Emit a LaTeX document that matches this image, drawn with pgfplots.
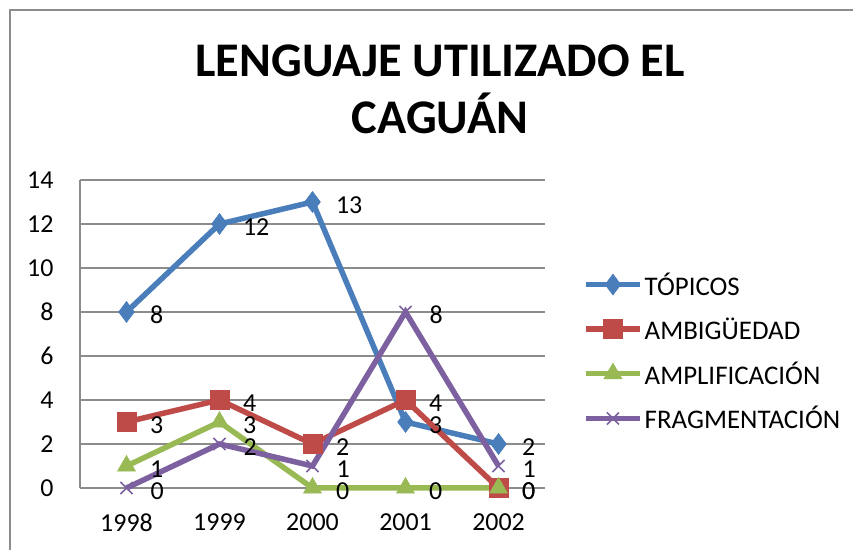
\documentclass[border=0pt]{standalone}
\usepackage{pgfplots}
\pgfplotsset{compat=1.18}
\usepackage{fontspec}
\setmainfont{Carlito}
\definecolor{cblue}{HTML}{4A7EBB}
\definecolor{cred}{HTML}{BE4B48}
\definecolor{cgreen}{HTML}{98B954}
\definecolor{cpurple}{HTML}{7D60A0}
\definecolor{cgrid}{HTML}{8C8C8C}
\begin{document}
\begin{tikzpicture}[x=1bp,y=1bp]
\path[use as bounding box] (0,0) rectangle (853,550);
\draw[cgrid, line width=1.5bp] (10,0) -- (10,540) -- (860,540);
\node[anchor=base, font=\fontsize{48.5}{52}\selectfont\bfseries] at (440,473) {LENGUAJE UTILIZADO EL};
\node[anchor=base, font=\fontsize{48.5}{52}\selectfont\bfseries] at (440,416) {CAGUÁN};
\begin{axis}[
  at={(80bp,62bp)}, anchor=south west,
  scale only axis, width=465bp, height=308bp,
  xmin=1997.5, xmax=2002.5, ymin=0, ymax=14,
  xtick={1998,1999,2000,2001,2002},
  xticklabels={1998,1999,2000,2001,2002},
  ytick={0,2,...,14},
  /pgf/number format/assume math mode=true,
  ymajorgrids, grid style={cgrid, line width=1.8bp},
  axis line style={cgrid, line width=1.8bp},
  axis x line*=bottom, axis y line*=left,
  major tick length=0pt,
  tick label style={font=\fontsize{26}{30}\selectfont},
  yticklabel style={xshift=-23bp},
  xticklabel style={yshift=-22bp},
  clip=false,
  nodes near coords,
  every node near coord/.append style={anchor=west, xshift=20bp, yshift=-3bp, font=\fontsize{26}{30}\selectfont, text=black},
  legend style={draw=none, fill=none, at={(1,0.443)}, anchor=west, xshift=38bp,
    font=\fontsize{27}{30}\selectfont, row sep=17bp, inner sep=0pt,
    legend cell align=left},
  legend image code/.code={\draw[mark repeat=2,mark phase=2,#1] plot coordinates {(0bp,0bp) (27bp,0bp) (54bp,0bp)};},
]
\addplot[cblue, line width=5.5bp, mark=diamond*, mark size=10.5bp, mark options={line width=0.5bp}] coordinates {(1998,8) (1999,12) (2000,13) (2001,3) (2002,2)};
\addlegendentry{TÓPICOS}
\addplot[cred, line width=5.5bp, mark=square*, mark size=9.5bp, mark options={line width=0.5bp}] coordinates {(1998,3) (1999,4) (2000,2) (2001,4) (2002,0)};
\addlegendentry{AMBIGÜEDAD}
\addplot[cgreen, line width=5.5bp, mark=triangle*, mark size=10.5bp, mark options={line width=0.5bp}] coordinates {(1998,1) (1999,3) (2000,0) (2001,0) (2002,0)};
\addlegendentry{AMPLIFICACIÓN}
\addplot[cpurple, line width=5.5bp, mark=x, mark size=8.5bp, mark options={line width=1.5bp}] coordinates {(1998,0) (1999,2) (2000,1) (2001,8) (2002,1)};
\addlegendentry{FRAGMENTACIÓN}
\end{axis}
\end{tikzpicture}
\end{document}
